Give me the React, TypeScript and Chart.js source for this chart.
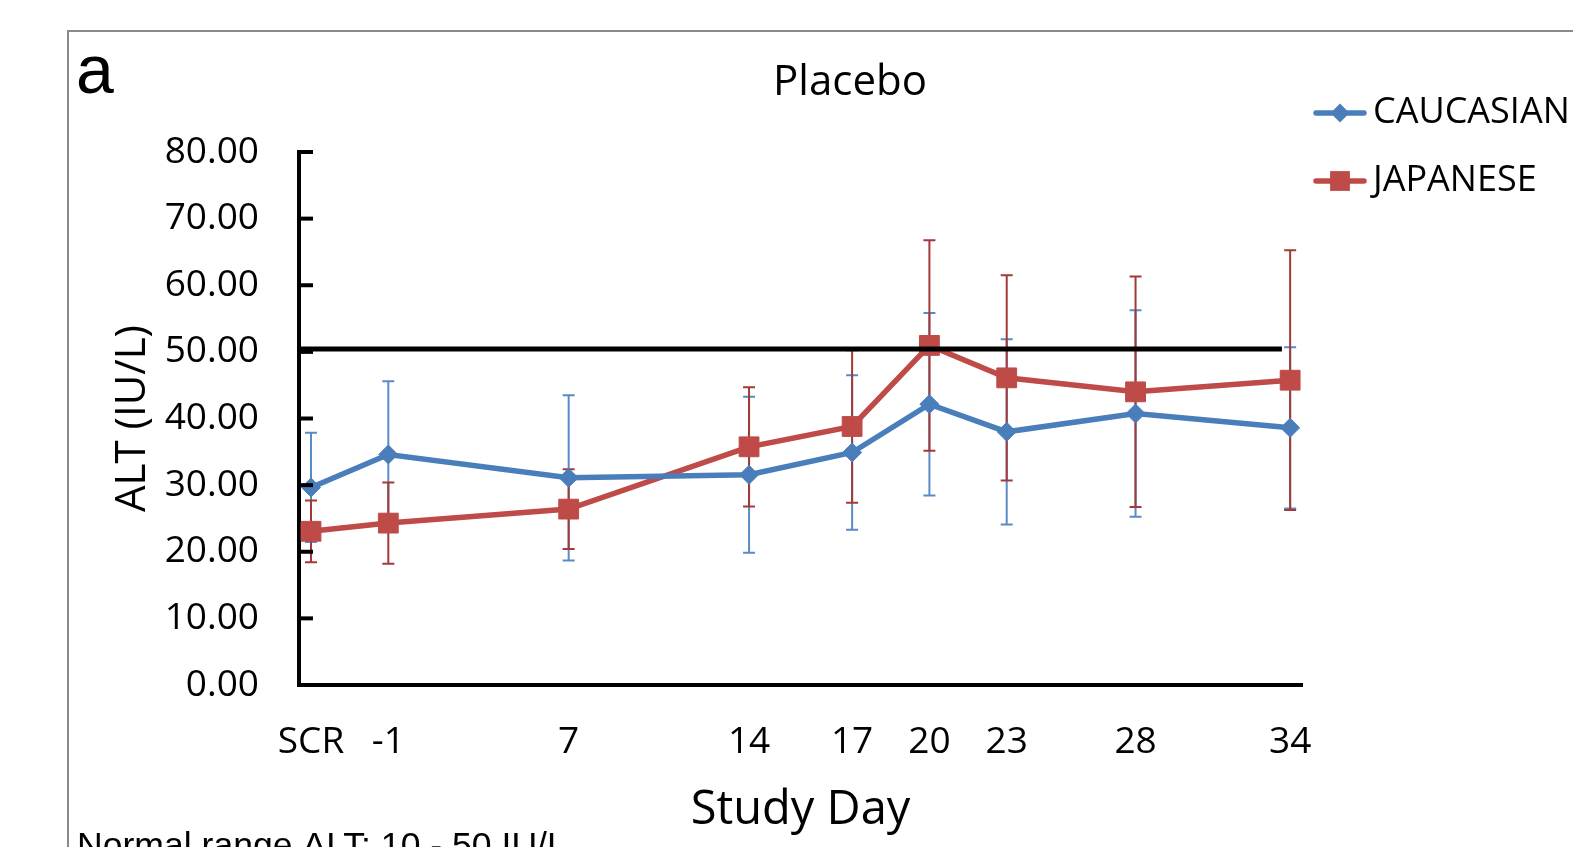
import React, { useEffect, useRef } from "react";
import { Chart, registerables } from "chart.js";

Chart.register(...registerables);

const dayLabels = ["SCR", "-1", "7", "14", "17", "20", "23", "28", "34"];
const dayPositions = [0, 3, 10, 17, 21, 24, 27, 32, 38];
const caucasianMean = [29.65, 34.6, 31.1, 31.55, 34.9, 42.15, 38.0, 40.75, 38.6];
const caucasianSD = [8.2, 11.0, 12.4, 11.7, 11.6, 13.7, 13.9, 15.5, 12.1];
const japaneseMean = [23.07, 24.3, 26.4, 35.75, 38.8, 50.97, 46.1, 44.0, 45.75];
const japaneseSD = [4.64, 6.1, 6.0, 8.95, 11.46, 15.8, 15.4, 17.3, 19.5];
const yTicks = [0, 10, 20, 30, 40, 50, 60, 70, 80];
const normalLimit = 50.45;
const normalLineX = [-0.466, 37.68];
const seriesNames = ["CAUCASIAN", "JAPANESE"];

const BLUE = "#4A7EBB";
const BLUE_ERR = "#5B8BC7";
const RED = "#BE4B48";
const RED_ERR = "#A23A37";
const FONT = "'Open Sans', sans-serif";

const errorBarPlugin = {
  id: "errorBars",
  beforeDatasetsDraw(chart: any) {
    const { ctx } = chart;
    const xs = chart.scales.x;
    const ys = chart.scales.y;
    chart.data.datasets.forEach((ds: any) => {
      if (!ds.errors) return;
      ctx.save();
      ctx.strokeStyle = ds.errorColor;
      ctx.lineWidth = 2;
      ds.data.forEach((p: any, i: number) => {
        const x = xs.getPixelForValue(p.x);
        const top = ys.getPixelForValue(p.y + ds.errors[i]);
        const bot = ys.getPixelForValue(p.y - ds.errors[i]);
        ctx.beginPath();
        ctx.moveTo(x, top);
        ctx.lineTo(x, bot);
        ctx.moveTo(x - 6, top);
        ctx.lineTo(x + 6, top);
        ctx.moveTo(x - 6, bot);
        ctx.lineTo(x + 6, bot);
        ctx.stroke();
      });
      ctx.restore();
    });
  },
};

const decorPlugin = {
  id: "decor",
  afterDraw(chart: any) {
    const { ctx, chartArea } = chart;
    const ys = chart.scales.y;
    ctx.save();
    // frame
    ctx.strokeStyle = "#8a8a8a";
    ctx.lineWidth = 2;
    ctx.beginPath();
    ctx.moveTo(68, 847);
    ctx.lineTo(68, 31);
    ctx.lineTo(1573, 31);
    ctx.stroke();
    // inward y tick marks
    ctx.strokeStyle = "#000";
    ctx.lineWidth = 4;
    yTicks.forEach((v) => {
      const y = ys.getPixelForValue(v);
      ctx.beginPath();
      ctx.moveTo(chartArea.left, y);
      ctx.lineTo(chartArea.left + 14, y);
      ctx.stroke();
    });
    // panel letter
    ctx.fillStyle = "#000";
    ctx.textBaseline = "alphabetic";
    ctx.textAlign = "left";
    ctx.font = "68px 'Liberation Sans', Arial, sans-serif";
    ctx.fillText("a", 76, 93);
    // title
    ctx.textAlign = "center";
    ctx.textBaseline = "middle";
    ctx.font = "42px " + FONT;
    ctx.fillText("Placebo", 850, 83);
    // legend
    const legendItems = [
      { label: seriesNames[0], color: BLUE, style: "rectRot", r: 9.5, y: 113 },
      { label: seriesNames[1], color: RED, style: "rect", r: 14, y: 181 },
    ];
    legendItems.forEach((it) => {
      ctx.strokeStyle = it.color;
      ctx.lineWidth = 5.5;
      ctx.lineCap = "round";
      ctx.beginPath();
      ctx.moveTo(1316, it.y);
      ctx.lineTo(1364, it.y);
      ctx.stroke();
      ctx.fillStyle = it.color;
      ctx.beginPath();
      if (it.style === "rectRot") {
        ctx.moveTo(1340 - it.r, it.y);
        ctx.lineTo(1340, it.y - it.r);
        ctx.lineTo(1340 + it.r, it.y);
        ctx.lineTo(1340, it.y + it.r);
        ctx.closePath();
      } else {
        const s = it.r * Math.SQRT1_2;
        ctx.rect(1340 - s, it.y - s, 2 * s, 2 * s);
      }
      ctx.fill();
      ctx.fillStyle = "#000";
      ctx.textAlign = "left";
      ctx.textBaseline = "middle";
      ctx.font = "36px " + FONT;
      ctx.fillText(it.label, 1373, it.y);
    });
    // footnote
    ctx.fillStyle = "#000";
    ctx.textAlign = "left";
    ctx.textBaseline = "alphabetic";
    ctx.font = "35.6px 'Liberation Sans', Arial, sans-serif";
    ctx.fillText("Normal range ALT: 10 - 50 IU/L", 77, 857);
    ctx.restore();
  },
};

export default function App() {
  const ref = useRef<HTMLCanvasElement>(null);
  useEffect(() => {
    if (!ref.current) return;
    Chart.defaults.font.family = FONT;
    Chart.defaults.color = "#000";
    const chart = new Chart(ref.current, {
      type: "line",
      data: {
        datasets: [
          {
            label: "normal",
            data: normalLineX.map((x) => ({ x, y: normalLimit })),
            borderColor: "#000",
            borderWidth: 5,
            pointRadius: 0,
          } as any,
          {
            label: seriesNames[0],
            data: dayPositions.map((x, i) => ({ x, y: caucasianMean[i] })),
            errors: caucasianSD,
            errorColor: BLUE_ERR,
            borderColor: BLUE,
            backgroundColor: BLUE,
            borderWidth: 5.5,
            pointStyle: "rectRot",
            pointRadius: 9.5,
            pointBorderWidth: 1,
            pointBackgroundColor: BLUE,
            pointBorderColor: BLUE,
          } as any,
          {
            label: seriesNames[1],
            data: dayPositions.map((x, i) => ({ x, y: japaneseMean[i] })),
            errors: japaneseSD,
            errorColor: RED_ERR,
            borderColor: RED,
            backgroundColor: RED,
            borderWidth: 5.5,
            pointStyle: "rect",
            pointRadius: 14,
            pointBorderWidth: 1,
            pointBackgroundColor: RED,
            pointBorderColor: RED,
          } as any,
        ],
      },
      options: {
        responsive: false,
        animation: false,
        layout: { padding: { top: 152, right: 271, left: 0, bottom: 0 } },
        plugins: {
          legend: { display: false },
          tooltip: { enabled: false },
          title: { display: false },
        },
        scales: {
          x: {
            type: "linear",
            min: -0.466,
            max: 38.46,
            afterFit: (s: any) => {
              s.height = 162;
            },
            afterBuildTicks: (s: any) => {
              s.ticks = dayPositions.map((v) => ({ value: v }));
            },
            grid: { display: false, drawTicks: false },
            border: { display: true, color: "#000", width: 4 },
            ticks: {
              autoSkip: false,
              maxRotation: 0,
              padding: 35,
              font: { size: 37, family: FONT },
              color: "#000",
              callback: (_v: any, i: number) => dayLabels[i],
            },
            title: {
              display: true,
              text: "Study Day",
              font: { size: 47, family: FONT, lineHeight: 1 },
              color: "#000",
              padding: { top: 0, bottom: 13 },
            },
          },
          y: {
            type: "linear",
            min: 0,
            max: 80,
            afterFit: (s: any) => {
              s.width = 299;
            },
            afterBuildTicks: (s: any) => {
              s.ticks = yTicks.map((v) => ({ value: v }));
            },
            grid: { display: false, drawTicks: false },
            border: { display: true, color: "#000", width: 4 },
            ticks: {
              padding: 40,
              font: { size: 37, family: FONT },
              color: "#000",
              callback: (v: any) => Number(v).toFixed(2),
            },
            title: {
              display: true,
              text: "ALT (IU/L)",
              font: { size: 42, family: FONT, lineHeight: 1 },
              color: "#000",
              padding: { top: 112, bottom: 0 },
            },
          },
        },
      },
      plugins: [errorBarPlugin, decorPlugin],
    });
    return () => chart.destroy();
  }, []);
  return (
    <div style={{ position: "absolute", left: 0, top: 0, width: 1573, height: 847, background: "#fff", overflow: "hidden" }}>
      <canvas ref={ref} width={1573} height={847} style={{ display: "block" }} />
    </div>
  );
}
